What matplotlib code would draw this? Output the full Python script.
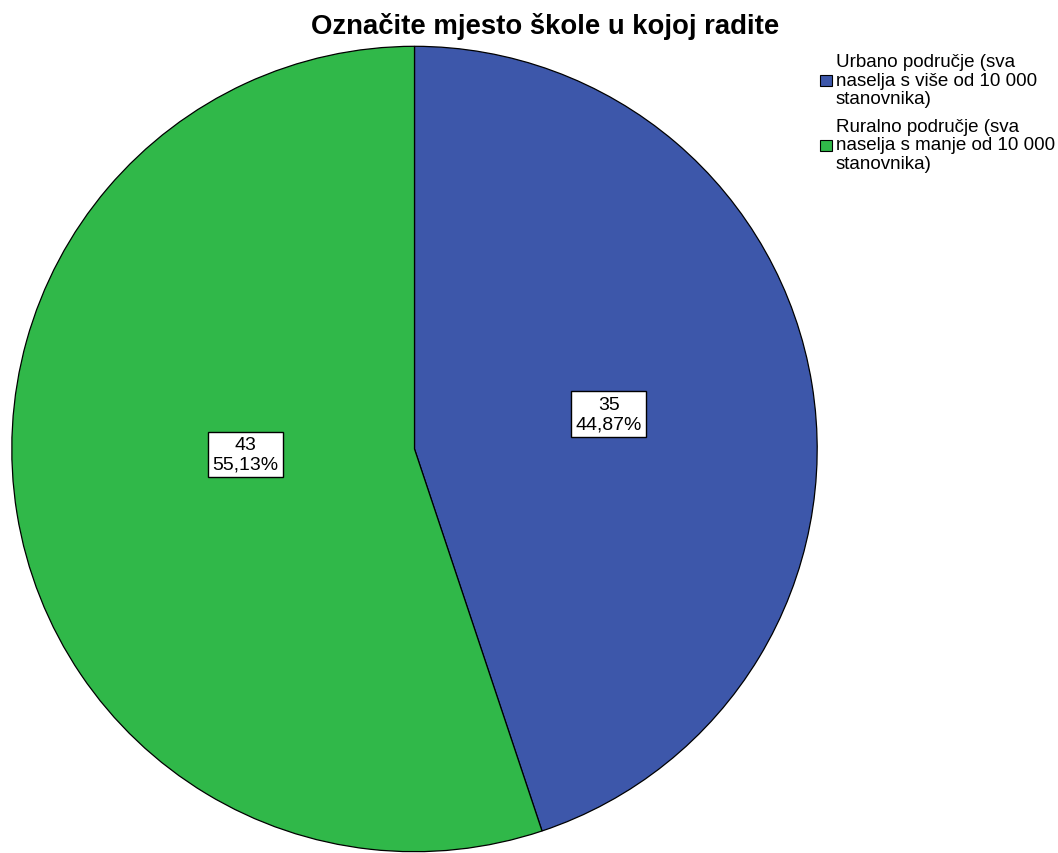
import matplotlib
matplotlib.use("Agg")
import matplotlib.pyplot as plt
from matplotlib.patches import Rectangle

plt.rcParams['font.family'] = ['Liberation Sans', 'DejaVu Sans']

categories = ["Urbano područje (sva\nnaselja s više od 10 000\nstanovnika)",
              "Ruralno područje (sva\nnaselja s manje od 10 000\nstanovnika)"]
counts = [35, 43]
percent_labels = ["44,87%", "55,13%"]
colors = ["#3d57aa", "#30b849"]
title = "Označite mjesto škole u kojoj radite"

W, H = 1058, 854
fig = plt.figure(figsize=(W / 100, H / 100), dpi=100)
cx, cy, r = 414.5, 450, 403.5
ax = fig.add_axes([(cx - r) / W, 1 - (cy + r) / H, 2 * r / W, 2 * r / H])
wedges, _ = ax.pie(counts, colors=colors, startangle=90, counterclock=False,
                   radius=1.0, wedgeprops=dict(edgecolor="black", linewidth=0.9))
ax.set_xlim(-1.002, 1.002)
ax.set_ylim(-1.002, 1.002)
ax.set_aspect("auto")
ax.axis("off")

label_pos = [(0.482, 0.087), (-0.42, -0.014)]
for (x, y), c, p in zip(label_pos, counts, percent_labels):
    ax.text(x, y, f"{c}\n{p}", ha="center", va="center", fontsize=14,
            linespacing=1.2,
            bbox=dict(boxstyle="square,pad=0.22", facecolor="white", edgecolor="black", linewidth=1.0))

fig.text(545 / W, 1 - 27 / H, title, ha="center", va="center", fontsize=19.8, fontweight="bold")

legend_y = [81, 146]
for yy, lab, col in zip(legend_y, categories, colors):
    fig.patches.append(Rectangle((820 / W, 1 - (yy + 6) / H), 12 / W, 11 / H,
                                 transform=fig.transFigure, facecolor=col,
                                 edgecolor="black", linewidth=0.8))
    fig.text(836 / W, 1 - yy / H, lab, ha="left", va="center", fontsize=13.5, linespacing=1.08)

fig.savefig("out.png", dpi=100, facecolor="white")
